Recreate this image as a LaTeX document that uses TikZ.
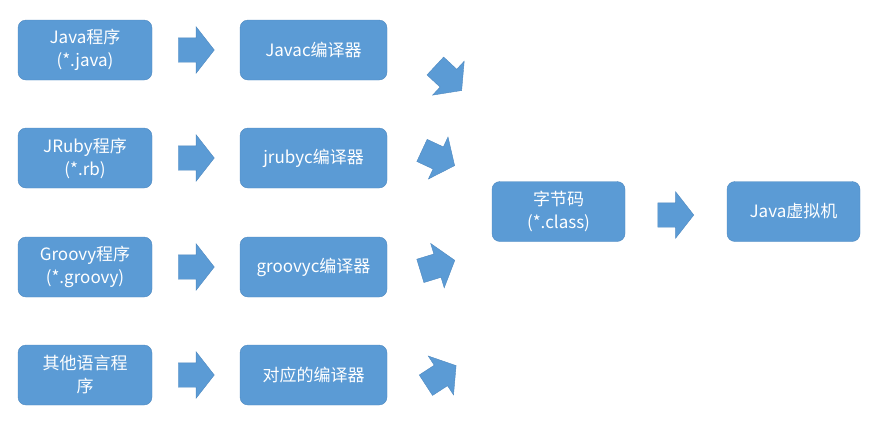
\documentclass[tikz,border=0pt]{standalone}
\usepackage{fontspec}
\setmainfont{Noto Sans CJK SC}
\usetikzlibrary{shapes.arrows}
\definecolor{boxblue}{HTML}{5B9BD5}
\definecolor{boxline}{HTML}{4F89C0}
\tikzset{
  blk/.style={draw=boxline, fill=boxblue, rounded corners=8pt, minimum width=134pt, minimum height=60pt,
    text=white, align=center, font=\fontsize{17}{23}\selectfont, inner sep=2pt},
  blkarrow/.style={single arrow, draw=boxline, fill=boxblue, minimum height=36pt,
    single arrow head extend=11pt, single arrow tip angle=104, inner xsep=0pt, inner ysep=12pt}
}
\begin{document}
\begin{tikzpicture}[x=1pt, y=-1pt]
        \useasboundingbox (0,0) rectangle (889,432);
        % sources
        \node[blk] (java) at (85,50) {Java程序\\(*.java)};
        \node[blk] (jruby) at (85,158) {JRuby程序\\(*.rb)};
        \node[blk] (groovy) at (85,267) {Groovy程序\\(*.groovy)};
        \node[blk] (other) at (85,375) {其他语言程\\序};
        % compilers
        \node[blk, minimum width=147pt] (javac) at (313.5,50) {Javac编译器};
        \node[blk, minimum width=147pt] (jrubyc) at (313.5,158) {jrubyc编译器};
        \node[blk, minimum width=147pt] (groovyc) at (313.5,267) {groovyc编译器};
        \node[blk, minimum width=147pt] (otherc) at (313.5,375) {对应的编译器};
        % bytecode and vm
        \node[blk, minimum width=133pt] (bytecode) at (558.5,211.5) {字节码\\(*.class)};
        \node[blk, minimum width=133pt] (jvm) at (793.5,211.5) {Java虚拟机};

        % arrows to compilers
        \node[blkarrow] (a1) at (191.5,50) {};
        \node[blkarrow] (a2) at (191.5,158) {};
        \node[blkarrow] (a3) at (191.5,267) {};
        \node[blkarrow] (a4) at (191.5,375) {};
        % arrows to bytecode
        \node[blkarrow, rotate=-43] (b1) at (445,75) {};
        \node[blkarrow, rotate=-25] (b2) at (434,156) {};
        \node[blkarrow, rotate=17] (b3) at (433,267) {};
        \node[blkarrow, rotate=33] (b4) at (437,378) {};
        % arrow to vm
        \node[blkarrow] (c1) at (671,215) {};
\end{tikzpicture}
\end{document}
